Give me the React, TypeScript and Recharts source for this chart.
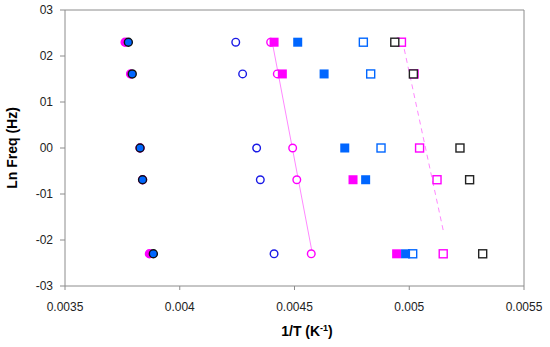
import React from "react";
import {
  ScatterChart,
  Scatter,
  XAxis,
  YAxis,
  ReferenceLine,
} from "recharts";

// ln(frequency) rows: 10, 5, 1, 0.5, 0.1 Hz
const lnFreq = [2.3, 1.61, 0, -0.69, -2.3];

// 1/T per row for each series (null = not visible)
const magentaDotX = [0.003762, 0.003786, 0.003827, 0.003838, 0.003868];
const blueDotX = [0.003776, 0.003793, 0.003827, 0.003838, 0.003885];
const blueRingX = [0.004244, 0.004274, 0.004335, 0.004351, 0.004411];
const magentaRingX = [0.004396, 0.004425, 0.004492, 0.00451, 0.004573];
const magentaBlockX = [0.004411, 0.004447, null, 0.004755, 0.004945];
const blueBlockX = [0.004514, 0.004629, 0.004719, 0.00481, 0.004984];
const blueBoxX = [0.0048, 0.004832, 0.004877, null, 0.005015];
const magentaBoxX = [0.004966, 0.005021, 0.005045, 0.005121, 0.005148];
const blackBoxX = [0.004937, 0.005018, 0.005221, 0.005263, 0.00532];

// fitted lines (end points)
const solidFitX = [0.004403, 0.004578];
const solidFitY = [2.3, -2.3];
const dashedFitX = [0.00497, 0.005148];
const dashedFitY = [2.34, -1.79];

const xTicks = [0.0035, 0.004, 0.0045, 0.005, 0.0055];
const xTickLabels = ["0.0035", "0.004", "0.0045", "0.005", "0.0055"];
const yTicks = [-3, -2, -1, 0, 1, 2, 3];
const yTickLabels = ["-03", "-02", "-01", "00", "01", "02", "03"];

const toPoints = (xs: (number | null)[], ys: number[]) =>
  xs
    .map((x, i) => ({ x, y: ys[i] }))
    .filter((p) => p.x !== null) as { x: number; y: number }[];

const MAGENTA = "#ff00ff";
const BLUE = "#0066ff";
const DARK_BLUE = "#1a1ae6";
const AXIS = "#8c8c8c";

const ring = (color: string) => (props: any) => (
  <circle cx={props.cx} cy={props.cy} r={3.8} fill="#fff" stroke={color} strokeWidth={1.4} />
);
const dot = (fill: string, stroke: string) => (props: any) => (
  <circle cx={props.cx} cy={props.cy} r={4} fill={fill} stroke={stroke} strokeWidth={1.4} />
);
const box = (color: string) => (props: any) => (
  <rect x={props.cx - 4} y={props.cy - 4} width={8} height={8} fill="#fff" stroke={color} strokeWidth={1.4} />
);
const block = (color: string) => (props: any) => (
  <rect x={props.cx - 4.5} y={props.cy - 4.5} width={9} height={9} fill={color} />
);
const none = () => <g />;

const tickStyle = { fontFamily: "Liberation Sans, Arial, sans-serif", fontSize: 12, fill: "#222" };

export default function App() {
  return (
    <div style={{ position: "absolute", left: 0, top: 0, background: "#fff" }}>
      <ScatterChart width={550} height={347} margin={{ top: 10, right: 26, left: 0, bottom: 0 }}>
        <XAxis
          type="number"
          dataKey="x"
          domain={[0.0035, 0.0055]}
          ticks={xTicks}
          tickFormatter={(v: number) => xTickLabels[xTicks.indexOf(v)] ?? String(v)}
          height={61}
          stroke={AXIS}
          tickSize={4}
          tickMargin={12}
          tick={tickStyle}
          allowDataOverflow
          label={{
            content: () => (
              <text
                x={307}
                y={336}
                textAnchor="middle"
                fontFamily="Liberation Sans, Arial, sans-serif"
                fontSize={14}
                fontWeight="bold"
                fill="#000"
              >
                1/T (K
                <tspan dy={-5} fontSize={9}>-1</tspan>
                <tspan dy={5}>)</tspan>
              </text>
            ),
          }}
        />
        <YAxis
          type="number"
          dataKey="y"
          domain={[-3, 3]}
          ticks={yTicks}
          tickFormatter={(v: number) => yTickLabels[yTicks.indexOf(v)] ?? String(v)}
          width={65}
          stroke={AXIS}
          tickSize={5}
          tickMargin={7}
          tick={tickStyle}
          allowDataOverflow
          label={{
            content: () => (
              <text
                x={0}
                y={0}
                transform="translate(17,148) rotate(-90)"
                textAnchor="middle"
                fontFamily="Liberation Sans, Arial, sans-serif"
                fontSize={14}
                fontWeight="bold"
                fill="#000"
              >
                Ln Freq (Hz)
              </text>
            ),
          }}
        />
        <ReferenceLine y={3} stroke={AXIS} />
        <ReferenceLine x={0.0055} stroke={AXIS} />

        {/* fitted lines */}
        <Scatter
          data={toPoints(solidFitX, solidFitY)}
          line={{ stroke: "#ff88ff", strokeWidth: 1 }}
          shape={none}
          isAnimationActive={false}
        />
        <Scatter
          data={toPoints(dashedFitX, dashedFitY)}
          line={{ stroke: "#ff88ff", strokeWidth: 1, strokeDasharray: "5 4" }}
          shape={none}
          isAnimationActive={false}
        />

        <Scatter data={toPoints(blueRingX, lnFreq)} shape={ring(DARK_BLUE)} isAnimationActive={false} />
        <Scatter data={toPoints(magentaRingX, lnFreq)} shape={ring(MAGENTA)} isAnimationActive={false} />
        <Scatter data={toPoints(magentaBlockX, lnFreq)} shape={block(MAGENTA)} isAnimationActive={false} />
        <Scatter data={toPoints(blueBoxX, lnFreq)} shape={box(BLUE)} isAnimationActive={false} />
        <Scatter data={toPoints(blueBlockX, lnFreq)} shape={block(BLUE)} isAnimationActive={false} />
        <Scatter data={toPoints(magentaBoxX, lnFreq)} shape={box(MAGENTA)} isAnimationActive={false} />
        <Scatter data={toPoints(blackBoxX, lnFreq)} shape={box("#222")} isAnimationActive={false} />
        <Scatter data={toPoints(magentaDotX, lnFreq)} shape={dot(MAGENTA, MAGENTA)} isAnimationActive={false} />
        <Scatter data={toPoints(blueDotX, lnFreq)} shape={dot(BLUE, "#111")} isAnimationActive={false} />
      </ScatterChart>
    </div>
  );
}
